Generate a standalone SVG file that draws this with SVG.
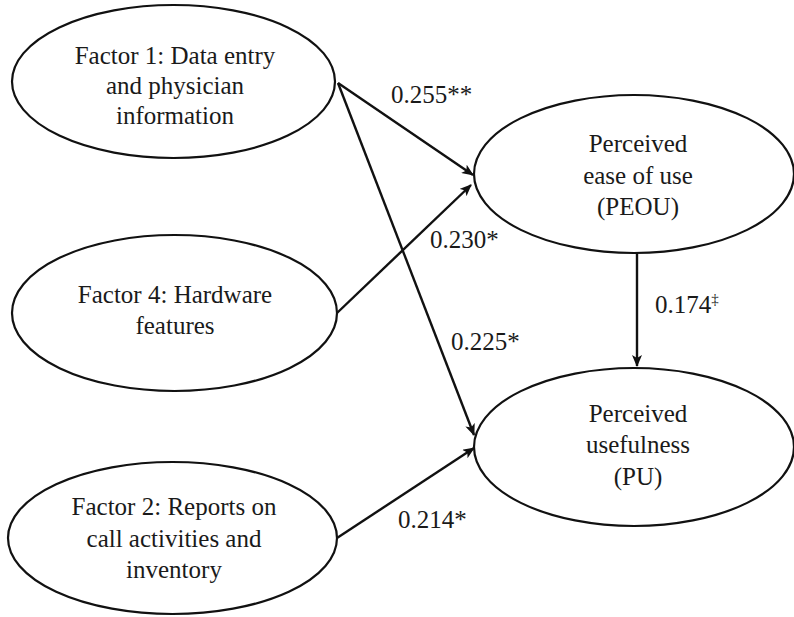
<svg xmlns="http://www.w3.org/2000/svg" width="794" height="617" viewBox="0 0 794 617">
<defs>
<style>
.node{fill:#fff;stroke:#111;stroke-width:2.2}
.t{font-family:"Liberation Serif","Times New Roman",serif;font-size:25px;fill:#1a1a1a;text-anchor:middle}
.l{font-family:"Liberation Serif","Times New Roman",serif;font-size:25px;fill:#1a1a1a}
.c{stroke:#111;stroke-width:2.4;fill:none;marker-end:url(#ah)}
</style>
<marker id="ah" viewBox="0 0 12 10" refX="11" refY="5" markerWidth="12" markerHeight="10" markerUnits="userSpaceOnUse" orient="auto">
<path d="M0,0 L12,5 L0,10 L3,5 Z" fill="#111"/>
</marker>
</defs>
<rect width="794" height="617" fill="#fff"/>
<g id="connectors">
<line class="c" x1="338" y1="83" x2="473" y2="175"/>
<line class="c" x1="338" y1="83" x2="474" y2="435"/>
<line class="c" x1="337" y1="313" x2="471" y2="185"/>
<line class="c" x1="337" y1="538" x2="474" y2="448"/>
<line class="c" x1="637" y1="253" x2="637" y2="366"/>
<text class="l" x="391" y="103">0.255**</text>
<text class="l" x="430" y="248">0.230*</text>
<text class="l" x="451" y="350">0.225*</text>
<text class="l" x="398" y="528">0.214*</text>
<text class="l" x="655" y="313">0.174<tspan dy="-9" font-size="15">‡</tspan></text>
</g>
<g id="factor1">
<ellipse class="node" cx="173.5" cy="81.5" rx="161.5" ry="76.5"/>
<text class="t" x="175" y="64">Factor 1: Data entry</text>
<text class="t" x="175" y="94">and physician</text>
<text class="t" x="175" y="124">information</text>
</g>
<g id="factor4">
<ellipse class="node" cx="174.5" cy="313" rx="162.5" ry="78"/>
<text class="t" x="175" y="303">Factor 4: Hardware</text>
<text class="t" x="175" y="334">features</text>
</g>
<g id="factor2">
<ellipse class="node" cx="172.5" cy="538" rx="164.5" ry="76"/>
<text class="t" x="174" y="515">Factor 2: Reports on</text>
<text class="t" x="174" y="547">call activities and</text>
<text class="t" x="174" y="578">inventory</text>
</g>
<g id="peou">
<ellipse class="node" cx="634" cy="174" rx="160" ry="79"/>
<text class="t" x="638" y="152">Perceived</text>
<text class="t" x="638" y="184">ease of use</text>
<text class="t" x="638" y="215">(PEOU)</text>
</g>
<g id="pu">
<ellipse class="node" cx="634" cy="447" rx="160" ry="79"/>
<text class="t" x="638" y="422">Perceived</text>
<text class="t" x="638" y="453">usefulness</text>
<text class="t" x="638" y="485">(PU)</text>
</g>
</svg>
